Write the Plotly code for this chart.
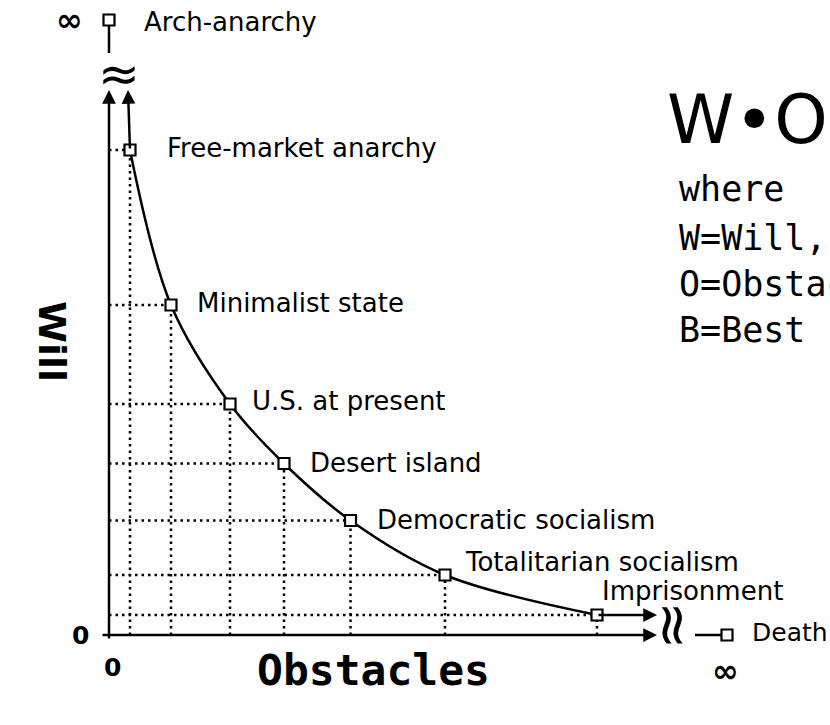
import plotly.graph_objects as go

# ---------------- data ----------------
regimes = ["Free-market anarchy", "Minimalist state", "U.S. at present", "Desert island",
           "Democratic socialism", "Totalitarian socialism", "Imprisonment"]
obstacles = [4.2, 12.4, 24.2, 35.0, 48.3, 67.2, 97.6]
will = [97.0, 66.0, 46.2, 34.3, 22.9, 12.0, 4.0]

# limit cases, drawn beyond the axis breaks (at "infinity")
limit_labels = ["Arch-anarchy", "Death"]
limit_obstacles = [0.0, 123.6]
limit_will = [123.0, 0.0]

x_tick_labels = ["0", "∞"]
y_tick_labels = ["0", "∞"]

axis_end = 109.6      # where the axis arrows stop (before the break)
stub_x = 117.2        # start of the stub leading to "Death"
stub_y = 116.4        # start of the stub leading to "Arch-anarchy"

# ---------------- style ----------------
LBL = dict(family="DejaVu Sans", size=26, color="black")
BLACK = "black"

fig = go.Figure()

# dotted guide lines
gx, gy = [], []
for o, w in zip(obstacles, will):
    gx += [0, o, None, o, o, None]
    gy += [w, w, None, 0, w, None]
fig.add_trace(go.Scatter(x=gx, y=gy, mode="lines",
                         line=dict(color=BLACK, width=2.5, dash="2.5px,4px"),
                         hoverinfo="skip", showlegend=False))

# the curve W·O
fig.add_trace(go.Scatter(x=obstacles, y=will, mode="lines",
                         line=dict(color=BLACK, width=2.5, shape="spline", smoothing=1.0),
                         hoverinfo="skip", showlegend=False))

# stubs to the limit points
fig.add_trace(go.Scatter(x=[limit_obstacles[0], limit_obstacles[0], None, stub_x, limit_obstacles[1]],
                         y=[stub_y, limit_will[0], None, limit_will[1], limit_will[1]],
                         mode="lines", line=dict(color=BLACK, width=2.5),
                         hoverinfo="skip", showlegend=False))

# markers
fig.add_trace(go.Scatter(x=obstacles + limit_obstacles, y=will + limit_will, mode="markers",
                         marker=dict(symbol="square", size=11, color="white",
                                     line=dict(color=BLACK, width=2.2)),
                         hoverinfo="skip", showlegend=False))

ann = []

def arrow(x, y, ax, ay):
    ann.append(dict(x=x, y=y, ax=ax, ay=ay, xref="x", yref="y", axref="x", ayref="y",
                    showarrow=True, arrowhead=2, arrowwidth=2.5, arrowsize=1.1,
                    arrowcolor=BLACK, text=""))

# axes
arrow(0, axis_end - 0.6, 0, -1)
arrow(axis_end, 0, -1.6, 0)
# asymptotes of the curve
arrow(obstacles[0] - 0.4, axis_end - 0.6, obstacles[0], will[0])
arrow(axis_end, will[-1], obstacles[-1], will[-1])

# curve labels
shifts = [(35, 2), (24, 2), (20, 3), (24, 1), (24, 1), (18, 13), (3, 24)]
for name, o, w, (dx, dy) in zip(regimes, obstacles, will, shifts):
    ann.append(dict(x=o, y=w, text=name, showarrow=False, xanchor="left", yanchor="middle",
                    xshift=dx, yshift=dy, font=LBL))

# limit labels
ann.append(dict(x=limit_obstacles[0], y=limit_will[0], text=limit_labels[0], showarrow=False,
                xanchor="left", yanchor="middle", xshift=33, yshift=-2, font=LBL))
ann.append(dict(x=limit_obstacles[1], y=limit_will[1], text=limit_labels[1], showarrow=False,
                xanchor="left", yanchor="middle", xshift=23, yshift=3,
                font=dict(family="DejaVu Sans", size=25, color=BLACK)))

# tick labels
TICK = dict(family="DejaVu Sans", size=25, color=BLACK, weight="bold")
INF = dict(family="DejaVu Sans", size=32, color=BLACK, weight="bold")
ann.append(dict(x=0, y=0, text=y_tick_labels[0], showarrow=False, xshift=-29, font=TICK))
ann.append(dict(x=0, y=0, text=x_tick_labels[0], showarrow=False, xshift=3, yshift=-32, font=TICK))
ann.append(dict(x=limit_obstacles[0], y=limit_will[0], text=y_tick_labels[1], showarrow=False,
                xshift=-40, yshift=0, font=INF))
ann.append(dict(x=limit_obstacles[1], y=limit_will[1], text=x_tick_labels[1], showarrow=False,
                xshift=-2, yshift=-36, font=INF))

# axis breaks
ann.append(dict(x=2, y=112.2, text="≈", showarrow=False,
                font=dict(family="DejaVu Sans", size=50, color=BLACK)))
ann.append(dict(x=113, y=2, text="≈", textangle=90, showarrow=False,
                font=dict(family="DejaVu Sans", size=58, color=BLACK)))

# axis titles
ann.append(dict(xref="paper", yref="paper", x=373 / 830, y=1 - 697 / 725, text="Obstacles",
                showarrow=False, font=dict(family="DejaVu Sans Mono", size=43, color=BLACK, weight="bold")))
ann.append(dict(xref="paper", yref="paper", x=28 / 830, y=1 - 341 / 725, text="Will", textangle=90,
                showarrow=False, font=dict(family="DejaVu Sans", size=38, color=BLACK, weight="bold")))

# formula block
ann.append(dict(xref="paper", yref="paper", x=665 / 830, y=1 - 119 / 725, text="W•O",
                xanchor="left", yanchor="middle", showarrow=False,
                font=dict(family="DejaVu Sans", size=68, color=BLACK)))
legend_lines = ["where", "W=Will,", "O=Obstacles,", "B=Best"]
legend_y = [189, 238, 284, 330]
for t, yy in zip(legend_lines, legend_y):
    ann.append(dict(xref="paper", yref="paper", x=677 / 830, y=1 - yy / 725, text=t,
                    xanchor="left", yanchor="middle", showarrow=False,
                    font=dict(family="DejaVu Sans Mono", size=35, color=BLACK)))

fig.update_layout(
    width=830, height=725,
    margin=dict(l=0, r=0, t=0, b=0),
    paper_bgcolor="white", plot_bgcolor="white",
    xaxis=dict(range=[-21.8, 144.2], visible=False, fixedrange=True),
    yaxis=dict(range=[-18, 127], visible=False, fixedrange=True),
    annotations=ann,
    showlegend=False,
)

fig.write_html("out.html", config={"displayModeBar": False},
               post_script="document.body.style.margin='0px';")
